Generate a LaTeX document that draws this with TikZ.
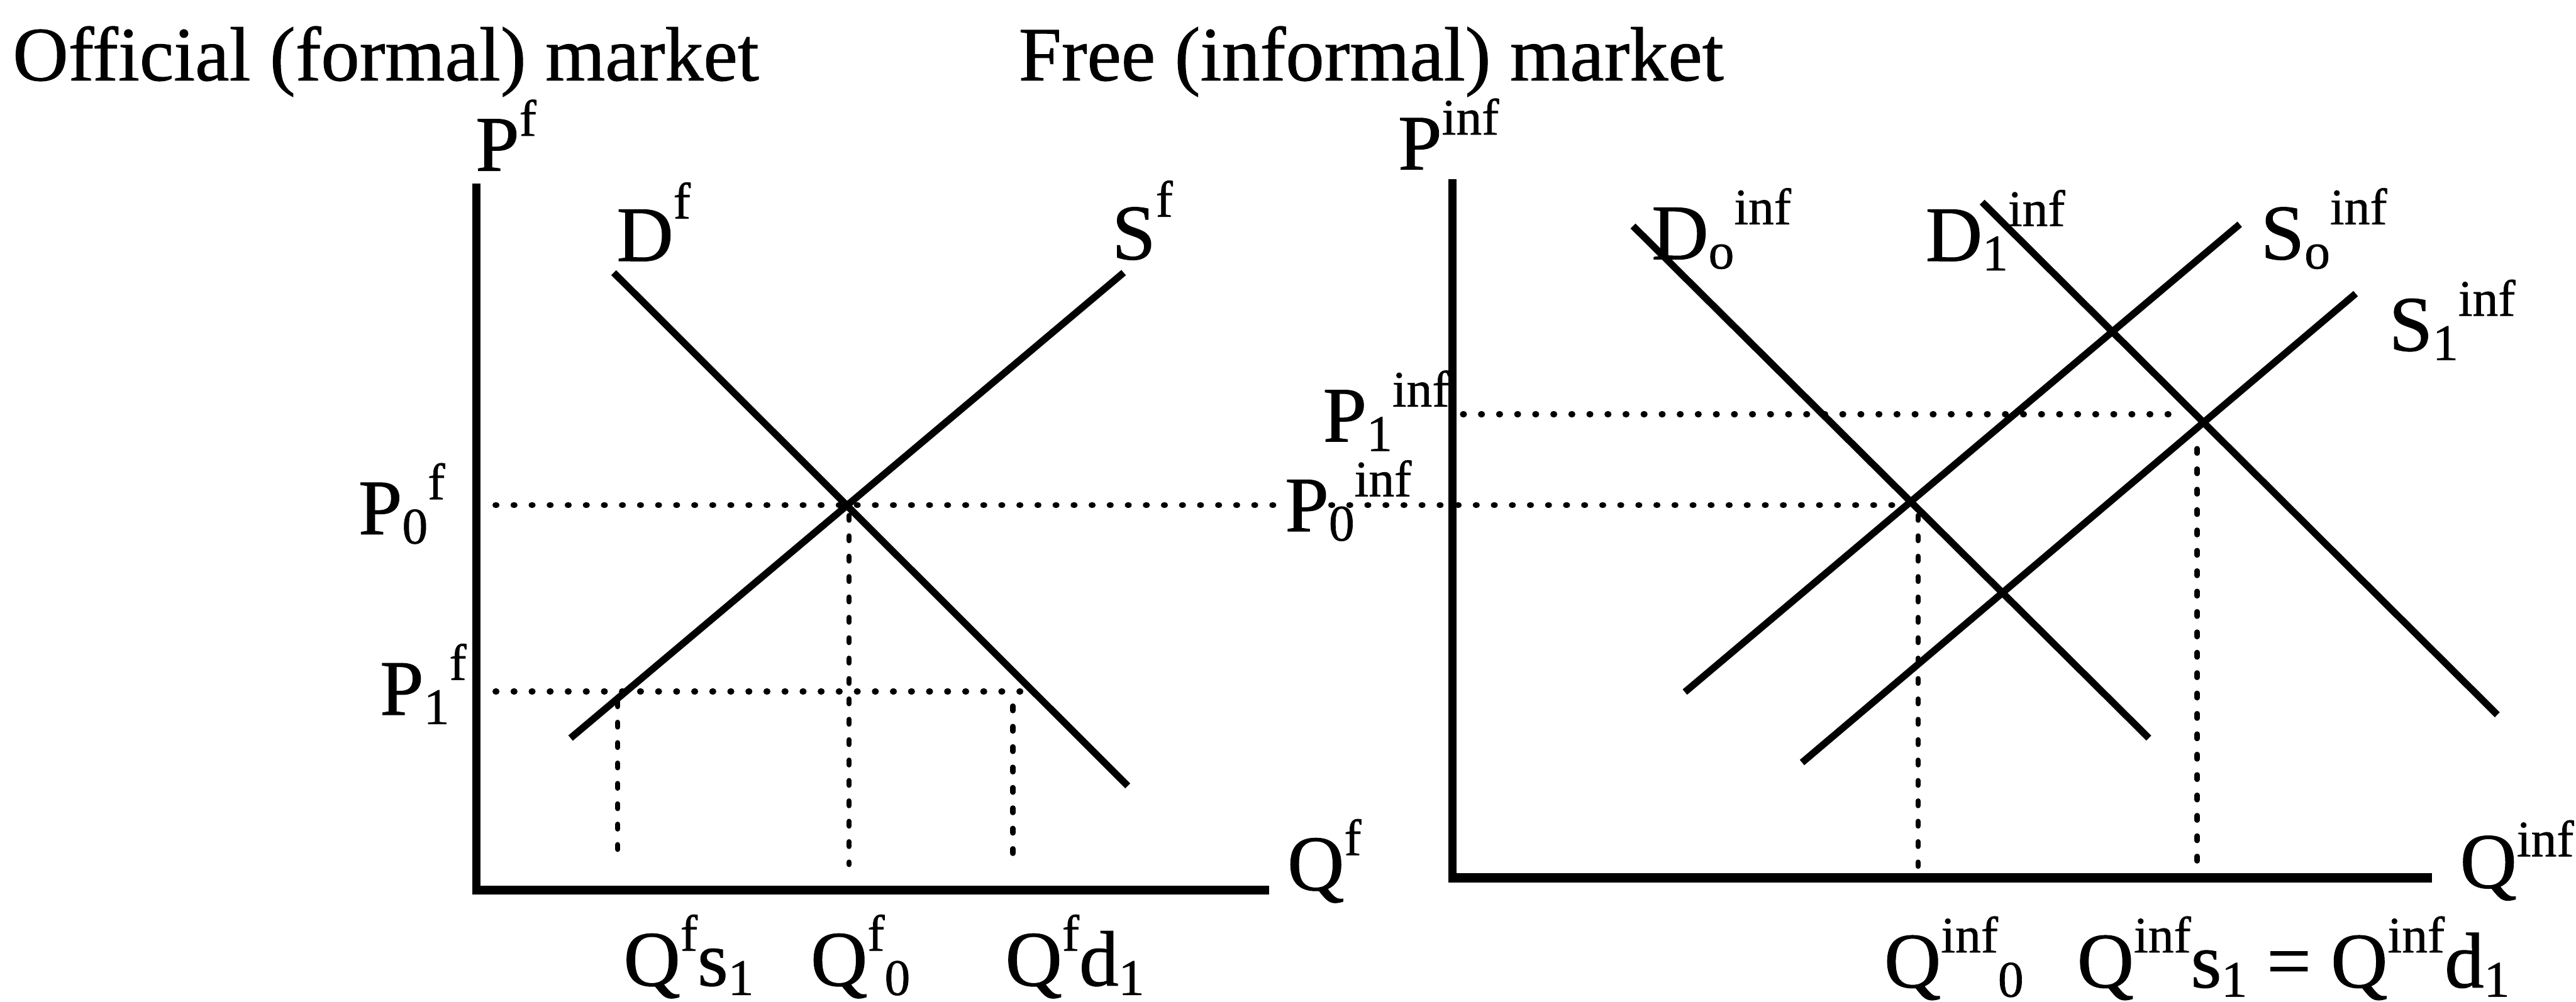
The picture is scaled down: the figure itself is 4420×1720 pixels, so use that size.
\documentclass[tikz,border=0pt]{standalone}
\usepackage{fontspec}
\setmainfont{Liberation Serif}[FakeBold=0.8]
\newcommand{\Sp}[2][6pt]{\raisebox{#1}{\fontsize{8.8pt}{9pt}\selectfont #2}}
\newcommand{\Sb}[2][-1.6pt]{\raisebox{#1}{\fontsize{8.8pt}{9pt}\selectfont #2}}
\begin{document}
\begin{tikzpicture}[x=0.1pt,y=-0.1pt,
  lbl/.style={inner sep=0pt,anchor=base west,font=\fontsize{13.5pt}{14pt}\selectfont},
  ttl/.style={inner sep=0pt,anchor=base west,font=\fontsize{13.2pt}{14pt}\selectfont},
  curve/.style={line width=1.2pt},
  axis/.style={line width=1.4pt},
  xaxis/.style={line width=1.6pt},
  hdots/.style={line width=1pt,line cap=round,dash pattern=on 0.2pt off 2.9pt},
  vdots/.style={line width=0.9pt,line cap=round,dash pattern=on 0.8pt off 2.7pt}]
\useasboundingbox (0,0) rectangle (4420,1720);

% titles
\node[ttl] (t1) at (20,138) {Official (formal) market};
\node[ttl] (t2) at (1746,138) {Free (informal) market};

% ---------- left panel ----------
\coordinate (Lo) at (817,1528);
\coordinate (Ltop) at (817,315);
\coordinate (Lend) at (2178,1528);
\draw[axis] (Ltop) -- (817,1535);
\draw[xaxis] (810,1528) -- (Lend);

\coordinate (Dfa) at (1053,468);
\coordinate (Dfb) at (1935,1349);
\coordinate (Sfa) at (979,1267);
\coordinate (Sfb) at (1928,468);
\draw[curve] (Dfa) -- (Dfb);
\draw[curve] (Sfa) -- (Sfb);

\node[lbl] (Pf) at (814,293) {P\Sp{f}};
\node[lbl] (Df) at (1056,448) {D\Sp[7.3pt]{f}};
\node[lbl] (Sf) at (1906,445) {S\Sp[7.3pt]{f}};
\node[lbl] (P0f) at (613,917) {P\Sb{0}\Sp{f}};
\node[lbl] (P1f) at (650,1227) {P\Sb{1}\Sp{f}};
\node[lbl] (Qf) at (2207,1528) {Q\Sp{f}};
\node[lbl] (Qfs) at (1068,1692) {Q\Sp{f}s\Sb{1}};
\node[lbl] (Qf0) at (1389,1692) {Q\Sp{f}\Sb{0}};
\node[lbl] (Qfd) at (1723,1692) {Q\Sp{f}d\Sb{1}};

% dotted guides left
\coordinate (p0a) at (850,867);
\coordinate (p0b) at (2196,867);
\coordinate (p1a) at (850,1187);
\coordinate (p1b) at (1760,1187);
\draw[hdots] (p0a) -- (p0b);
\draw[hdots] (p1a) -- (p1b);
\coordinate (v1a) at (1060,1205);
\coordinate (v1b) at (1060,1484);
\coordinate (v2a) at (1457,885);
\coordinate (v2b) at (1457,1484);
\coordinate (v3a) at (1738,1212);
\coordinate (v3b) at (1738,1484);
\draw[vdots] (v1a) -- (v1b);
\draw[vdots] (v2a) -- (v2b);
\draw[vdots] (v3a) -- (v3b);

% ---------- right panel ----------
\coordinate (Rtop) at (2492,308);
\coordinate (Rend) at (4173,1507);
\draw[axis] (Rtop) -- (2492,1514);
\draw[xaxis] (2485,1507) -- (Rend);

\coordinate (D0a) at (2802,388);
\coordinate (D0b) at (3687,1267);
\coordinate (D1a) at (3401,347);
\coordinate (D1b) at (4285,1227);
\coordinate (S0a) at (2891,1188);
\coordinate (S0b) at (3843,385);
\coordinate (S1a) at (3092,1309);
\coordinate (S1b) at (4042,504);
\draw[curve] (D0a) -- (D0b);
\draw[curve] (D1a) -- (D1b);
\draw[curve] (S0a) -- (S0b);
\draw[curve] (S1a) -- (S1b);

\node[lbl] (Pinf) at (2397,291) {P\Sp{inf}};
\node[lbl] (P0inf) at (2203,912) {P\Sb{0}\Sp{inf}};
\node[lbl] (P1inf) at (2268,758) {P\Sb{1}\Sp{inf}};
\node[lbl] (D0inf) at (2832,445) {D\Sb{o}\Sp{inf}};
\node[lbl] (D1inf) at (3302,448) {D\Sb{1}\Sp{inf}};
\node[lbl] (S0inf) at (3877,445) {S\Sb{o}\Sp{inf}};
\node[lbl] (S1inf) at (4097,602) {S\Sb{1}\Sp{inf}};
\node[lbl] (Qinf) at (4219,1524) {Q\Sp[5.4pt]{inf}};
\node[lbl] (Qinf0) at (3231,1695) {Q\Sp{inf}\Sb{0}};
\node[lbl] (Qeq) at (3562,1695) {Q\Sp{inf}s\Sb{1} = Q\Sp{inf}d\Sb{1}};

% dotted guides right
\coordinate (q0a) at (2284,867);
\coordinate (q0b) at (3262,867);
\coordinate (q1a) at (2510,711);
\coordinate (q1b) at (3745,711);
\draw[hdots] (q0a) -- (q0b);
\draw[hdots] (q1a) -- (q1b);
\coordinate (w1a) at (3291,885);
\coordinate (w1b) at (3291,1487);
\coordinate (w2a) at (3770,770);
\coordinate (w2b) at (3770,1487);
\draw[vdots] (w1a) -- (w1b);
\draw[vdots] (w2a) -- (w2b);
\end{tikzpicture}
\end{document}
